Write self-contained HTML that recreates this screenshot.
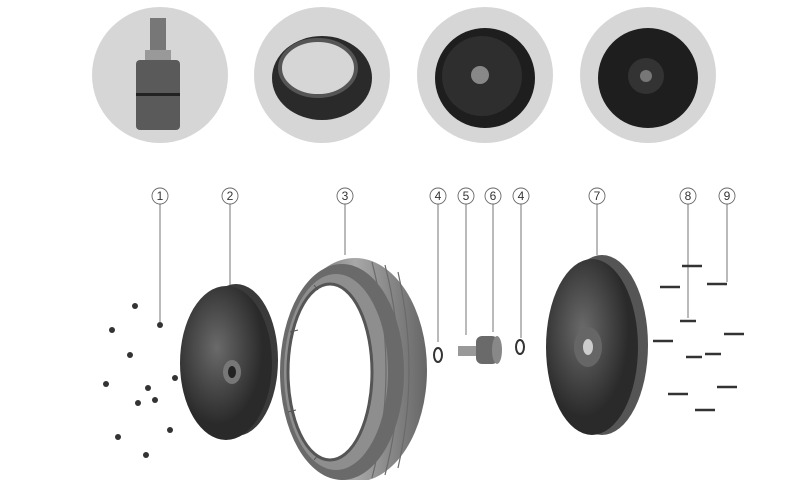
<!DOCTYPE html>
<html><head><meta charset="utf-8"><style>
html,body{margin:0;padding:0;background:#fff;}
svg{display:block;}
text{font-family:"Liberation Sans",sans-serif;}
</style></head><body>
<svg width="800" height="480" viewBox="0 0 800 480" xmlns="http://www.w3.org/2000/svg">
<defs>
<radialGradient id="g1" cx="40%" cy="40%"><stop offset="0" stop-color="#6a6a6a"/><stop offset="1" stop-color="#2a2a2a"/></radialGradient>
<linearGradient id="tire" x1="0" x2="1"><stop offset="0" stop-color="#555"/><stop offset="0.5" stop-color="#a8a8a8"/><stop offset="1" stop-color="#666"/></linearGradient>
</defs>
<circle cx="160" cy="75" r="68" fill="#d6d6d6"/>
<circle cx="322" cy="75" r="68" fill="#d6d6d6"/>
<circle cx="485" cy="75" r="68" fill="#d6d6d6"/>
<circle cx="648" cy="75" r="68" fill="#d6d6d6"/>
<rect x="150" y="18" width="16" height="35" fill="#777"/>
<rect x="145" y="50" width="26" height="12" fill="#999"/>
<rect x="136" y="60" width="44" height="70" rx="4" fill="#5a5a5a"/>
<rect x="136" y="93" width="44" height="3" fill="#222"/>
<ellipse cx="322" cy="78" rx="50" ry="42" fill="#2a2a2a"/>
<ellipse cx="318" cy="68" rx="38" ry="28" fill="#d6d6d6"/>
<ellipse cx="318" cy="68" rx="38" ry="28" fill="none" stroke="#555" stroke-width="4"/>
<circle cx="485" cy="78" r="50" fill="#1e1e1e"/>
<circle cx="482" cy="76" r="40" fill="#2e2e2e"/>
<circle cx="480" cy="75" r="9" fill="#888"/>
<circle cx="648" cy="78" r="50" fill="#1e1e1e"/>
<circle cx="646" cy="76" r="18" fill="#333"/>
<circle cx="646" cy="76" r="6" fill="#777"/>
<g fill="none" stroke="#666" stroke-width="0.9">
<circle cx="160" cy="196" r="8"/><line x1="160" y1="204" x2="160" y2="322"/>
<circle cx="230" cy="196" r="8"/><line x1="230" y1="204" x2="230" y2="290"/>
<circle cx="345" cy="196" r="8"/><line x1="345" y1="204" x2="345" y2="255"/>
<circle cx="438" cy="196" r="8"/><line x1="438" y1="204" x2="438" y2="342"/>
<circle cx="466" cy="196" r="8"/><line x1="466" y1="204" x2="466" y2="335"/>
<circle cx="493" cy="196" r="8"/><line x1="493" y1="204" x2="493" y2="332"/>
<circle cx="521" cy="196" r="8"/><line x1="521" y1="204" x2="521" y2="338"/>
<circle cx="597" cy="196" r="8"/><line x1="597" y1="204" x2="597" y2="255"/>
<circle cx="688" cy="196" r="8"/><line x1="688" y1="204" x2="688" y2="318"/>
<circle cx="727" cy="196" r="8"/><line x1="727" y1="204" x2="727" y2="282"/>
</g>
<g font-size="12" fill="#333" text-anchor="middle">
<text x="160" y="200">1</text><text x="230" y="200">2</text><text x="345" y="200">3</text>
<text x="438" y="200">4</text><text x="466" y="200">5</text><text x="493" y="200">6</text>
<text x="521" y="200">4</text><text x="597" y="200">7</text><text x="688" y="200">8</text><text x="727" y="200">9</text>
</g>
<g fill="#333">
<circle cx="135" cy="306" r="3"/><circle cx="160" cy="325" r="3"/><circle cx="112" cy="330" r="3"/>
<circle cx="130" cy="355" r="3"/><circle cx="175" cy="378" r="3"/><circle cx="106" cy="384" r="3"/>
<circle cx="155" cy="400" r="3"/><circle cx="138" cy="403" r="3"/><circle cx="170" cy="430" r="3"/>
<circle cx="118" cy="437" r="3"/><circle cx="146" cy="455" r="3"/><circle cx="148" cy="388" r="3"/>
</g>
<ellipse cx="236" cy="360" rx="42" ry="76" fill="#3a3a3a"/>
<ellipse cx="226" cy="363" rx="46" ry="77" fill="url(#g1)"/>
<ellipse cx="232" cy="372" rx="9" ry="12" fill="#777"/>
<ellipse cx="232" cy="372" rx="4" ry="6" fill="#222"/>
<ellipse cx="355" cy="370" rx="72" ry="112" fill="url(#tire)"/>
<ellipse cx="342" cy="372" rx="62" ry="108" fill="#6a6a6a"/>
<ellipse cx="336" cy="372" rx="52" ry="98" fill="#8e8e8e"/>
<ellipse cx="330" cy="372" rx="42" ry="88" fill="#fff"/>
<ellipse cx="330" cy="372" rx="42" ry="88" fill="none" stroke="#555" stroke-width="3"/>
<g stroke="#555" stroke-width="1">
<line x1="298" y1="330" x2="290" y2="332"/><line x1="296" y1="410" x2="288" y2="412"/>
<line x1="318" y1="290" x2="314" y2="285"/><line x1="318" y1="455" x2="314" y2="460"/>
</g>
<g fill="none" stroke="#6a6a6a" stroke-width="1.2">
<path d="M372 262 Q400 370 372 478"/><path d="M385 265 Q412 370 385 475"/><path d="M398 272 Q420 370 398 468"/>
</g>
<ellipse cx="438" cy="355" rx="4" ry="7" fill="none" stroke="#333" stroke-width="2"/>
<ellipse cx="520" cy="347" rx="4" ry="7" fill="none" stroke="#333" stroke-width="2"/>
<rect x="458" y="346" width="22" height="10" fill="#999"/>
<rect x="476" y="336" width="22" height="28" rx="6" fill="#6a6a6a"/>
<ellipse cx="497" cy="350" rx="5" ry="14" fill="#888"/>
<ellipse cx="602" cy="345" rx="46" ry="90" fill="#555"/>
<ellipse cx="592" cy="347" rx="46" ry="88" fill="url(#g1)"/>
<ellipse cx="588" cy="347" rx="14" ry="20" fill="#666"/>
<ellipse cx="588" cy="347" rx="5" ry="8" fill="#ccc"/>
<g stroke="#333" stroke-width="2.5">
<line x1="682" y1="266" x2="702" y2="266"/><line x1="660" y1="287" x2="680" y2="287"/>
<line x1="707" y1="284" x2="727" y2="284"/><line x1="680" y1="321" x2="696" y2="321"/>
<line x1="724" y1="334" x2="744" y2="334"/><line x1="653" y1="341" x2="673" y2="341"/>
<line x1="686" y1="357" x2="702" y2="357"/><line x1="705" y1="354" x2="721" y2="354"/>
<line x1="717" y1="387" x2="737" y2="387"/><line x1="668" y1="394" x2="688" y2="394"/>
<line x1="695" y1="410" x2="715" y2="410"/>
</g>
</svg>
</body></html>
